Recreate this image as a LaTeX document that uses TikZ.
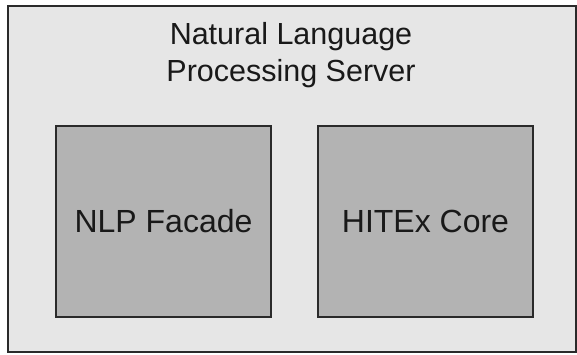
\documentclass[tikz,border=0pt]{standalone}
\usepackage{fontspec}
\setmainfont{Liberation Sans}
\definecolor{outerfill}{HTML}{E6E6E6}
\definecolor{innerfill}{HTML}{B3B3B3}
\definecolor{edge}{HTML}{2A2A2A}
\tikzset{
  serverbox/.style={draw=edge, line width=2pt, fill=outerfill},
  compbox/.style={draw=edge, line width=2pt, fill=innerfill, inner sep=0pt,
    minimum width=215pt, minimum height=191pt,
    font=\fontsize{32}{38}\selectfont, text=black!90},
  titletext/.style={align=center, inner sep=0pt, text=black!90,
    font=\fontsize{30.5}{36.7}\selectfont}
}
\begin{document}
\begin{tikzpicture}[x=1pt,y=1pt]
\useasboundingbox (0,0) rectangle (577,-355);
\coordinate (sw) at (8,-352);
\coordinate (ne) at (575.5,-6);
\draw[serverbox] (sw) rectangle (ne);
\node[titletext, anchor=base] (title) at (291,-81.7) {Natural Language\\Processing Server};
\node[compbox] (facade) at (163.5,-221.5) {NLP Facade};
\node[compbox] (core) at (425.5,-221.5) {HITEx Core};
\end{tikzpicture}
\end{document}
